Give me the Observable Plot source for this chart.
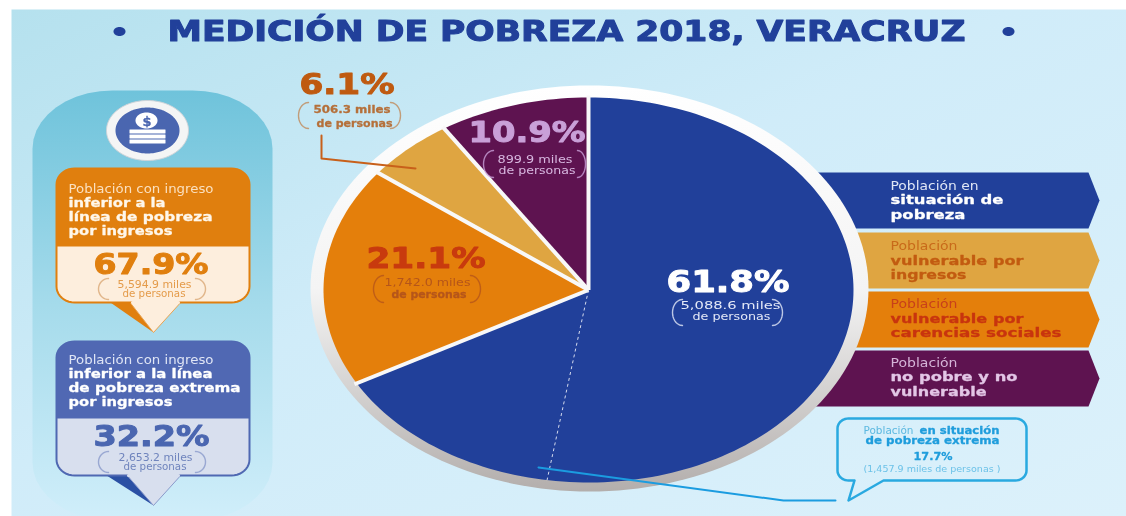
<!DOCTYPE html>
<html><head><meta charset="utf-8">
<script src="https://cdn.jsdelivr.net/npm/d3@7"></script>
<script src="https://cdn.jsdelivr.net/npm/@observablehq/plot@0.6"></script>
<style>html,body{margin:0;padding:0;background:#fff;overflow:hidden}svg{display:block;filter:blur(.45px)}</style>
</head><body><div id="chart"></div>
<script>
// ---- data ----
const titleText = "MEDICIÓN DE POBREZA 2018, VERACRUZ";
const categories = ["pobreza","ingresos","carencias","noPobre"];
const categoryColors = ["#21409a","#dfa541","#e47f0b","#5e1350"];
const sharePct = [61.8,21.1,6.1,10.9];          // printed percentages (see label layout)
const people = [5088.6,1742.0,506.3,899.9];     // miles de personas
// the drawn wedges in the reference are not proportional to the printed shares: spans in degrees as drawn
const wedgeOrder = ["pobreza","carencias","ingresos","noPobre"];
const wedgeSpanDeg = [241,66.5,19.5,33];
const extremeBoundaryDeg = 189;                 // dashed line inside the blue wedge
const incomeShares = [67.9,32.2];
const incomePeople = [5594.9,2653.2];
const extremeShare = 17.7, extremePeople = 1457.9;

const pct = v => v.toFixed(1)+"%";
const miles = v => d3.format(",.1f")(v)+" miles";

// ---- scales: the pie's unit square maps to an ellipse, as in the stretched reference ----
const CX=588, CY=289.5, RX=265, RY=192.5;
const X = px => (px-CX)/RX, Y = py => (CY-py)/RY;
const polar = (deg,r=1) => [r*Math.sin(deg*Math.PI/180), r*Math.cos(deg*Math.PI/180)];

// wedges
let acc=0;
const wedges = wedgeOrder.map((name,i)=>{const a0=acc,a1=acc+wedgeSpanDeg[i];acc=a1;return {name,a0,a1};});
const wedgePts = wedges.flatMap(w=>{
  const n=Math.ceil((w.a1-w.a0)/1.5), pts=[{name:w.name,x:0,y:0}];
  for(let k=0;k<=n;k++){const [x,y]=polar(w.a0+(w.a1-w.a0)*k/n);pts.push({name:w.name,x,y});}
  pts.push({name:w.name,x:0,y:0});return pts;});

// pixel-layout helpers
const shape=(pts,o)=>Plot.line(pts,{x:p=>X(p[0]),y:p=>Y(p[1]),curve:"linear",stroke:"none",...o});
function rrect(x0,y0,x1,y1,rx,ry,c=[1,1,1,1]){
  const out=[];const arc=(cx,cy,a0,a1)=>{for(let k=0;k<=10;k++){const a=(a0+(a1-a0)*k/10)*Math.PI/180;out.push([cx+rx*Math.cos(a),cy+ry*Math.sin(a)]);}};
  c[0]?arc(x0+rx,y0+ry,180,270):out.push([x0,y0]);
  c[1]?arc(x1-rx,y0+ry,270,360):out.push([x1,y0]);
  c[2]?arc(x1-rx,y1-ry,0,90):out.push([x1,y1]);
  c[3]?arc(x0+rx,y1-ry,90,180):out.push([x0,y1]);
  out.push(out[0]);return out;}
function ell(cx,cy,rx,ry){return d3.range(0,361,2).map(a=>[cx+rx*Math.cos(a*Math.PI/180),cy+ry*Math.sin(a*Math.PI/180)]);}
// a bracket that bows from its tips (x0) out to x1
const paren=(x0,x1,y0,y1,stroke)=>shape(d3.range(-90,91,10).map(a=>[x0+(x1-x0)*Math.cos(a*Math.PI/180),(y0+y1)/2+(y1-y0)/2*Math.sin(a*Math.PI/180)]),{stroke,strokeWidth:1.4,strokeOpacity:.8});

// text rows: string, left, right, baseline, size, weight, colour
const texts=[];
const T=(s,x0,x1,y,size,weight,fill)=>texts.push({s,x0,w:x1-x0,y,size,weight,fill});
T(titleText,167,965,40,27.5,"bold","#21409a");
T("Población con ingreso",68,213,192,12,"normal","#fbe0bf");
T("inferior a la",68,165,206,13,"bold","#fff7ea");
T("línea de pobreza",68,212,220,13,"bold","#fff7ea");
T("por ingresos",68,172,234,13,"bold","#fff7ea");
T(pct(incomeShares[0]),93,208,273,29,"bold","#e07f0e");
T(miles(incomePeople[0]),117,191,287,10,"normal","#e49b4a");
T("de personas",122,185,296,10,"normal","#e49b4a");
T("Población con ingreso",68,213,363,12,"normal","#dfe5f5");
T("inferior a la línea",68,212,377,13,"bold","#ffffff");
T("de pobreza extrema",68,240,391,13,"bold","#ffffff");
T("por ingresos",68,172,405,13,"bold","#ffffff");
T(pct(incomeShares[1]),93,209,445,29,"bold","#4a66b0");
T(miles(incomePeople[1]),118,192,460,10,"normal","#6f84bd");
T("de personas",123,186,469,10,"normal","#6f84bd");
T("$",142,151,125,13,"bold","#4a66b0");
// pie labels
T(pct(sharePct[2]),299,394,93,28,"bold","#bf5a10");
T(miles(people[2]),313,390,112,10.5,"bold","#b5703a");
T("de personas",316,392,126,10.5,"bold","#b5703a");
T(pct(sharePct[3]),468,585,141,29,"bold","#c9a0d8");
T(miles(people[3]),497,572,162,10.5,"normal","#d8b8e0");
T("de personas",498,575,173,10.5,"normal","#d8b8e0");
T(pct(sharePct[1]),366,485,267,29,"bold","#c83a0e");
T(miles(people[1]),384,470,285,10.5,"normal","#b5551a");
T("de personas",391,466,297,10.5,"bold","#b5551a");
T(pct(sharePct[0]),666,789,291,30,"bold","#ffffff");
T(miles(people[0]),680,780,308,10.5,"normal","#e4e9f7");
T("de personas",692,770,319,10.5,"normal","#e4e9f7");
// legend ribbons
T("Población en",890,978,189,12,"normal","#dfe6f5");
T("situación de",890,1003,203,13,"bold","#ffffff");
T("pobreza",890,965,218,13,"bold","#ffffff");
T("Población",890,957,249,12,"normal","#c86a1a");
T("vulnerable por",890,1023,264,13,"bold","#c25b10");
T("ingresos",890,966,278,13,"bold","#c25b10");
T("Población",890,957,307,12,"normal","#c8401a");
T("vulnerable por",890,1023,322,13,"bold","#c8340e");
T("carencias sociales",890,1061,336,13,"bold","#c8340e");
T("Población",890,957,366,12,"normal","#d5b4d8");
T("no pobre y no",890,1017,380,13,"bold","#e3c6e6");
T("vulnerable",890,986,395,13,"bold","#e3c6e6");
// callout
T("Población",863,913,433,10.5,"normal","#5bb8e0");
T("en situación",919,999,433,10.5,"bold","#1f9ddc");
T("de pobreza extrema",865,999,443,10.5,"bold","#1f9ddc");
T(pct(extremeShare),913,952,459,10.5,"bold","#1f9ddc");
T("("+d3.format(",.1f")(extremePeople)+" miles de personas )",863,1000,471,9.5,"normal","#6cc2e8");

const defs=()=>{const d=d3.create("svg:defs");
  d.html(`<linearGradient id="bg" x1="0" y1="0" x2="1" y2="1"><stop offset="0" stop-color="#b5e1ee"/><stop offset=".45" stop-color="#d0ecf9"/><stop offset="1" stop-color="#dcf1fb"/></linearGradient>
  <linearGradient id="cap" x1="0" y1="0" x2="0" y2="1"><stop offset="0" stop-color="#6fc3db"/><stop offset=".5" stop-color="#a5dbeb"/><stop offset="1" stop-color="#d0eefa"/></linearGradient>
  <linearGradient id="ring" x1="0" y1="0" x2="0" y2="1"><stop offset="0" stop-color="#ffffff"/><stop offset=".5" stop-color="#f4f4f4"/><stop offset=".75" stop-color="#d4d2d1"/><stop offset="1" stop-color="#b3aeac"/></linearGradient>`);
  return d.node();};

const ribbon=(y0,y1)=>[[770,y0],[1088,y0],[1099,(y0+y1)/2],[1088,y1],[770,y1],[770,y0]];
const ribbonYs=[[172,228],[232,288],[291,347],[350,406]];
const ribbons=categories.map((c,i)=>shape(ribbon(...ribbonYs[i]),{fill:categoryColors[i]}));

// callout outline with its tail let into the bottom edge
const box=rrect(837,418,1026,480,11,10);
const calloutOutline=[...box.slice(0,33),[883,480],[848,500],[854,480],...box.slice(33)];

const sepAngles=[0,241,307.5,327];
const marks=[
  defs,
  shape([[11,9],[1126,9],[1126,516],[11,516],[11,9]],{fill:"url(#bg)"}),
  shape(rrect(32,90,272,520,80,58),{fill:"url(#cap)"}),
  // icon
  shape(ell(147,130,41,30),{fill:"#f4f5f5",stroke:"#cfd3d8",strokeWidth:1}),
  shape(ell(147,130,32,23),{fill:"#4a66b0"}),
  shape(ell(146,120,11,8),{fill:"#ffffff"}),
  shape(rrect(129,129,165,133,.5,.5),{fill:"#ffffff"}),
  shape(rrect(129,134,165,138,.5,.5),{fill:"#ffffff"}),
  shape(rrect(129,139,165,143,.5,.5),{fill:"#ffffff"}),
  // orange box
  shape([[107,300],[153,332],[130,300],[107,300]],{fill:"#e07f0e"}),
  shape([[128,300],[153,332],[182,300],[128,300]],{fill:"#fdeedd",stroke:"#e9a351",strokeWidth:1}),
  shape(rrect(56,168,249,302,18,16),{fill:"#fdeedd",stroke:"#e07f0e",strokeWidth:2}),
  shape(rrect(56,168,249,246,18,16,[1,1,0,0]),{fill:"#e07f0e"}),
  shape([[132,302],[178,302]],{stroke:"#fdeedd",strokeWidth:3}),
  paren(108,98,278,299,"#d9a876"),paren(195,205,278,299,"#d9a876"),
  // blue box
  shape([[103,473],[153,505],[128,473],[103,473]],{fill:"#2b50a4"}),
  shape([[125,473],[153,505],[182,473],[125,473]],{fill:"#d8dfee",stroke:"#8a9acb",strokeWidth:1}),
  shape(rrect(56,341,249,475,18,16),{fill:"#d8dfee",stroke:"#4f68b2",strokeWidth:2}),
  shape(rrect(56,341,249,418,18,16,[1,1,0,0]),{fill:"#5068b3"}),
  shape([[128,475],[178,475]],{stroke:"#d8dfee",strokeWidth:3}),
  paren(108,98,451,472,"#8a9acb"),paren(195,205,451,472,"#8a9acb"),
  // legend ribbons, behind the pie ring
  ...ribbons,
  // ring and pie
  shape(ell(589,288,279,203),{fill:"url(#ring)"}),
  Plot.line(wedgePts,{x:"x",y:"y",z:"name",fill:"name",stroke:"none",curve:"linear"}),
  Plot.link(sepAngles,{x1:0,y1:0,x2:d=>polar(d,1.01)[0],y2:d=>polar(d,1.01)[1],stroke:"#f8f8f8",strokeWidth:4}),
  Plot.link([extremeBoundaryDeg],{x1:0,y1:0,x2:d=>polar(d)[0],y2:d=>polar(d)[1],stroke:"#d5dbee",strokeWidth:1,strokeDasharray:"3,3"}),
  // leaders
  shape([[321,135],[321,158],[415,168]],{stroke:"#c8601a",strokeWidth:2}),
  paren(308,298,102,128,"#c08a5a"),paren(390,400,102,128,"#c08a5a"),
  paren(493,483,150,177,"#c9a0d8"),paren(577,585,150,177,"#c9a0d8"),
  paren(383,373,275,302,"#b5551a"),paren(470,480,275,302,"#b5551a"),
  paren(682,672,299,325,"#e4e9f7"),paren(772,782,299,325,"#e4e9f7"),
  // callout
  shape([[538,467],[783,500],[835,500]],{stroke:"#1b9ce0",strokeWidth:2}),
  shape(calloutOutline,{stroke:"#29a9e0",strokeWidth:2.5}),
  // title dots
  shape(ell(119,31,6,4.5),{fill:"#21409a"}),
  shape(ell(1008,31,6,4.5),{fill:"#21409a"}),
  // all text, one mark per line; the big figures and bold lines are thickened to the reference's weight
  ...texts.map(r=>Plot.text([r],{x:d=>X(d.x0),y:d=>Y(d.y),text:"s",textAnchor:"start",lineAnchor:"bottom",
     fontSize:r.size,fontWeight:r.weight,fontFamily:"DejaVu Sans",fill:r.fill,
     stroke:r.weight==="bold"?r.fill:"none",strokeWidth:r.size>=27?1:.3}))
];

const chart=Plot.plot({
  width:1126,height:516,margin:0,
  style:{background:"#ffffff"},
  x:{domain:[-1,1],range:[CX-RX,CX+RX],axis:null},
  y:{domain:[1,-1],range:[CY-RY,CY+RY],axis:null},
  color:{domain:categories,range:categoryColors,legend:false},
  marks
});
document.getElementById("chart").append(chart);
// fit every line of text to its measured width in the reference
chart.querySelectorAll("text").forEach((t,i)=>{
  t.setAttribute("textLength",texts[i].w);
  t.setAttribute("lengthAdjust","spacingAndGlyphs");
});
</script></body></html>
